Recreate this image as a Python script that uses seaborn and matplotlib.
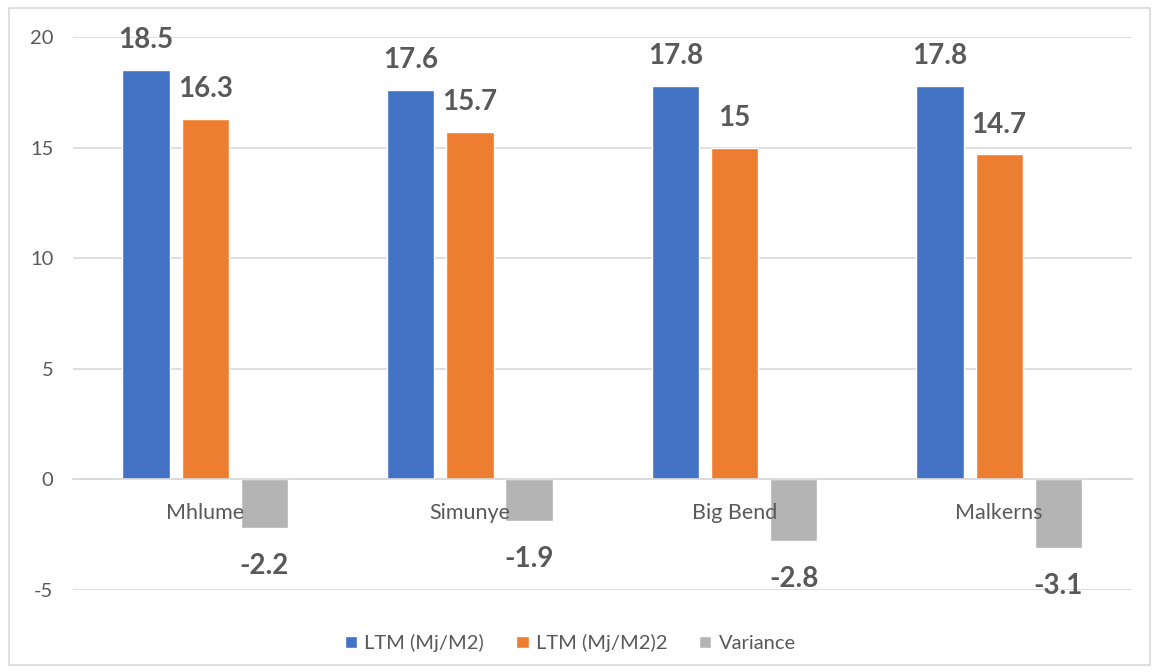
import matplotlib
matplotlib.use("Agg")
import matplotlib.pyplot as plt
from matplotlib.patches import Rectangle
import seaborn as sns
import pandas as pd

sites = ["Mhlume", "Simunye", "Big Bend", "Malkerns"]
ltm = [18.5, 17.6, 17.8, 17.8]
ltm2 = [16.3, 15.7, 15.0, 14.7]
variance = [-2.2, -1.9, -2.8, -3.1]
series_names = ["LTM (Mj/M2)", "LTM (Mj/M2)2", "Variance"]
value_labels = [["18.5", "17.6", "17.8", "17.8"],
                ["16.3", "15.7", "15", "14.7"],
                ["-2.2", "-1.9", "-2.8", "-3.1"]]
colors = ["#4472C4", "#ED7D31", "#B4B4B4"]
y_ticks = [-5, 0, 5, 10, 15, 20]

df = pd.DataFrame({
    "site": sites * 3,
    "series": [series_names[0]] * 4 + [series_names[1]] * 4 + [series_names[2]] * 4,
    "value": ltm + ltm2 + variance,
})

sns.set_theme(style="white")
plt.rcParams["font.family"] = ["Lato", "DejaVu Sans"]
plt.rcParams["axes.unicode_minus"] = False

fig = plt.figure(figsize=(11.57, 6.72), dpi=100)
ax = fig.add_axes([0.063, 0.122, 0.915, 0.823])

sns.barplot(data=df, x="site", y="value", hue="series", order=sites,
            hue_order=series_names, palette=colors, width=0.67, gap=0.2,
            saturation=1, errorbar=None, ax=ax, legend=True)

text_color = "#595959"
for cont, labels, vals in zip(ax.containers, value_labels, [ltm, ltm2, variance]):
    pad = 12 if vals[0] >= 0 else 18
    ax.bar_label(cont, labels=labels, padding=pad, fontsize=20,
                 fontweight="bold", color=text_color, clip_on=False)

ax.set_ylim(-5, 20)
ax.set_xlim(-0.5, 3.5)
ax.set_yticks(y_ticks)
ax.yaxis.grid(True, color="#D9D9D9", linewidth=1.2)
ax.set_axisbelow(True)
for side in ["left", "right", "top"]:
    ax.spines[side].set_visible(False)
ax.spines["bottom"].set_position(("data", 0))
ax.spines["bottom"].set_color("#D9D9D9")
ax.spines["bottom"].set_linewidth(1.2)
ax.tick_params(axis="x", length=0, pad=17, labelsize=15.5, labelcolor=text_color)
ax.tick_params(axis="y", length=0, pad=14, labelsize=14.5, labelcolor=text_color)
ax.xaxis.set_zorder(5)
ax.set_xlabel("")
ax.set_ylabel("")

handles, labels = ax.get_legend_handles_labels()
ax.legend(handles, labels, loc="upper center", bbox_to_anchor=(0.47, -0.047),
          ncol=3, frameon=False, fontsize=14.5, labelcolor=text_color,
          handlelength=0.6, handleheight=0.6, handletextpad=0.35,
          columnspacing=1.6)

fig.patches.append(Rectangle((9 / 1157, 1 - 665 / 672), 1141 / 1157, 657 / 672,
                             transform=fig.transFigure, fill=False,
                             edgecolor="#D9D9D9", linewidth=1.2))

fig.savefig("out.png", dpi=100)
